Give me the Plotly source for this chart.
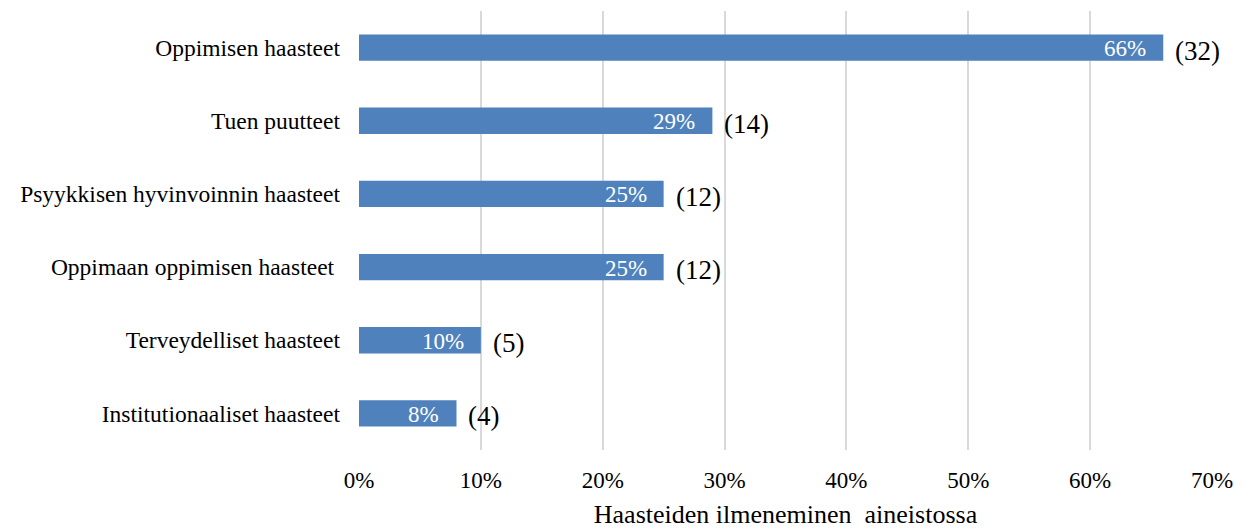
import plotly.graph_objects as go

categories = ["Oppimisen haasteet", "Tuen puutteet", "Psyykkisen hyvinvoinnin haasteet",
              "Oppimaan oppimisen haasteet ", "Terveydelliset haasteet", "Institutionaaliset haasteet"]
percents = [66, 29, 25, 25, 10, 8]
counts = [32, 14, 12, 12, 5, 4]
x_ticks = [0, 10, 20, 30, 40, 50, 60, 70]
x_title = "Haasteiden ilmeneminen  aineistossa"

FONT = "Liberation Serif, Times New Roman, serif"
BAR = "#4F81BD"

fig = go.Figure()
fig.add_trace(go.Bar(
    y=categories, x=percents, orientation="h",
    marker=dict(color=BAR, line=dict(width=0)),
    width=0.36,
    hoverinfo="x+y",
))

for c, p, n in zip(categories, percents, counts):
    fig.add_annotation(x=p, y=c, text=f"{p}%", showarrow=False,
                       xanchor="right", xshift=-15, yshift=-1,
                       font=dict(family=FONT, size=23, color="white"))
    fig.add_annotation(x=p, y=c, text=f"({n})", showarrow=False,
                       xanchor="left", xshift=10, yshift=-3,
                       font=dict(family=FONT, size=27, color="black"))

fig.update_layout(
    width=1253, height=528,
    margin=dict(l=351, r=49, t=3, b=86),
    paper_bgcolor="white", plot_bgcolor="white",
    showlegend=False,
    font=dict(family=FONT, size=23, color="black"),
)
fig.update_xaxes(range=[0, 70], tickvals=x_ticks, ticktext=[f"{t}%" for t in x_ticks],
                 showgrid=True, gridcolor="#D9D9D9", gridwidth=2, zeroline=False,
                 showline=False, ticks="", ticklabelstandoff=14, automargin=False,
                 tickfont=dict(family=FONT, size=23),
                 title=dict(text=x_title, font=dict(family=FONT, size=26), standoff=12))
fig.update_yaxes(autorange="reversed", categoryorder="array", categoryarray=categories,
                 showgrid=False, showline=False, ticks="", ticklabelstandoff=18,
                 automargin=False, tickfont=dict(family=FONT, size=23.5))

fig.write_html("out.html")
